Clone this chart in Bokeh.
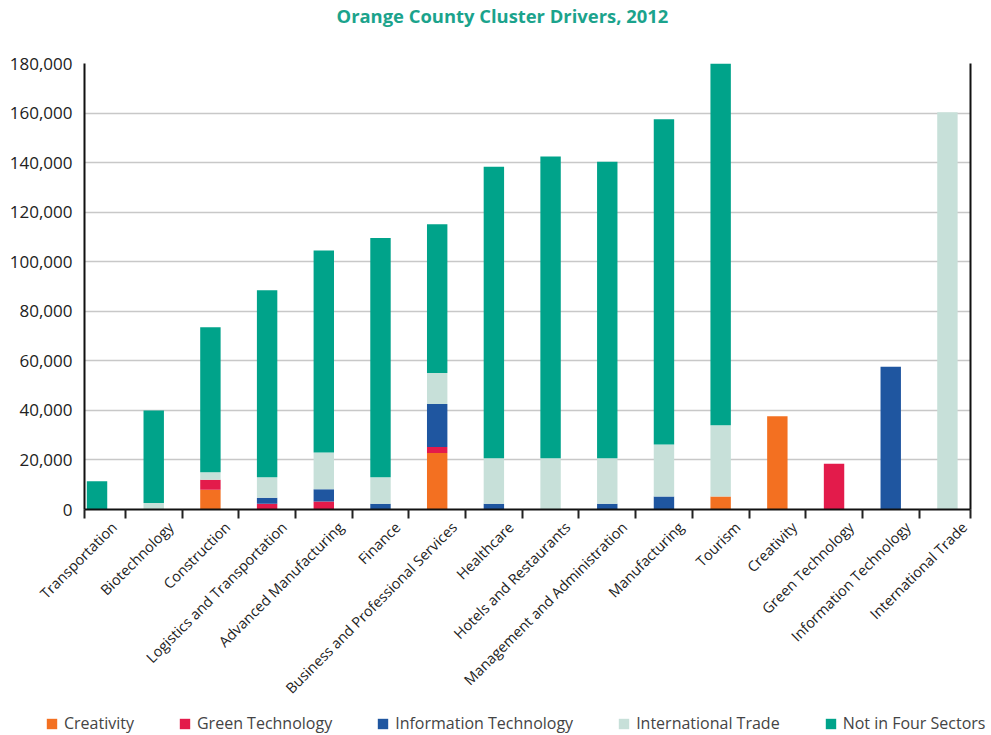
import math
from bokeh.plotting import figure
from bokeh.layouts import column
from bokeh.models import (ColumnDataSource, Range1d, FixedTicker, NumeralTickFormatter,
                          Legend, LegendItem, LinearAxis, Title)
from bokeh.embed import file_html
from bokeh.resources import INLINE

categories = ["Transportation", "Biotechnology", "Construction", "Logistics and Transportation",
              "Advanced Manufacturing", "Finance", "Business and Professional Services", "Healthcare",
              "Hotels and Restaurants", "Management and Administration", "Manufacturing", "Tourism",
              "Creativity", "Green Technology", "Information Technology", "International Trade"]

creativity   = [0, 0, 8000, 0, 0, 0, 22800, 0, 0, 0, 0, 5200, 37600, 0, 0, 0]
green_tech   = [0, 0, 4000, 2300, 3200, 0, 2400, 0, 0, 0, 0, 0, 0, 18500, 0, 0]
info_tech    = [0, 0, 0, 2400, 5000, 2300, 17400, 2300, 0, 2300, 5200, 0, 0, 0, 57600, 0]
intl_trade   = [0, 2600, 3000, 8300, 14800, 10700, 12500, 18400, 20700, 18400, 21000, 28800, 0, 0, 0, 160300]
not_in_four  = [11400, 37400, 58600, 75500, 81500, 96600, 60000, 117600, 121800, 119600, 131300, 146000, 0, 0, 0, 0]

series = ["Creativity", "Green Technology", "Information Technology", "International Trade", "Not in Four Sectors"]
keys = ["creativity", "green_tech", "info_tech", "intl_trade", "not_in_four"]
colors = ["#F37021", "#E31B4B", "#1F56A0", "#C7E0D9", "#00A38A"]
y_ticks = list(range(0, 180001, 20000))

xs = list(range(len(categories)))
source = ColumnDataSource(dict(x=xs, creativity=creativity, green_tech=green_tech, info_tech=info_tech,
                               intl_trade=intl_trade, not_in_four=not_in_four))

x_start, x_end = -0.221, 15.407
label_shift = 0.30
label_pos = [i + label_shift for i in xs]

p = figure(width=990, height=710, output_backend="svg", toolbar_location=None, title=None,
           x_range=Range1d(x_start, x_end), y_range=Range1d(0, 180000),
           min_border_left=84, min_border_right=20, min_border_top=63, min_border_bottom=201)

# spacer (nearest to the frame), then the visible title above it
p.add_layout(Title(text=" ", text_font_size="10px", standoff=23), "above")
p.add_layout(Title(text="Orange County Cluster Drivers, 2012", align="left", offset=252, standoff=0,
                   text_color="#1BA38C", text_font="Open Sans", text_font_style="bold",
                   text_font_size="18.4px"), "above")

p.vbar_stack(keys, x="x", width=0.36, source=source, color=colors, line_width=0)

# x axis
xa = p.xaxis[0]
xa.ticker = FixedTicker(ticks=label_pos, minor_ticks=[x_start] + [i + 0.5 for i in range(15)] + [x_end])
xa.major_label_overrides = {lp: c for lp, c in zip(label_pos, categories)}
xa.major_label_orientation = math.pi / 4
xa.major_tick_line_color = None
xa.minor_tick_in = 0
xa.minor_tick_out = 9
xa.minor_tick_line_color = "#222222"
xa.minor_tick_line_width = 2
xa.axis_line_color = "#111111"
xa.axis_line_width = 2
xa.major_label_text_font = "Open Sans"
xa.major_label_text_font_size = "14.5px"
xa.major_label_text_color = "#222222"
xa.major_label_standoff = 6

# y axis
ya = p.yaxis[0]
ya.ticker = FixedTicker(ticks=y_ticks)
ya.formatter = NumeralTickFormatter(format="0,0")
ya.major_tick_line_color = None
ya.minor_tick_line_color = None
ya.axis_line_color = "#111111"
ya.axis_line_width = 2
ya.major_label_text_font = "Open Sans"
ya.major_label_text_font_size = "17px"
ya.major_label_text_color = "#222222"
ya.major_label_standoff = 6

# right border
ra = LinearAxis(ticker=FixedTicker(ticks=[]), axis_line_color="#111111", axis_line_width=2,
                major_label_text_font_size="0px", major_tick_line_color=None, minor_tick_line_color=None)
p.add_layout(ra, "right")

p.xgrid.grid_line_color = None
p.ygrid.ticker = FixedTicker(ticks=y_ticks)
p.ygrid.grid_line_color = "#C8C8C8"
p.ygrid.grid_line_width = 1.5
p.outline_line_color = None

# legend strip (separate small figure under the chart)
lg = figure(width=990, height=25, output_backend="svg", toolbar_location=None, title=None,
            x_axis_type=None, y_axis_type=None, x_range=Range1d(0, 1), y_range=Range1d(0, 1),
            min_border_left=0, min_border_right=0, min_border_top=0, min_border_bottom=0)
lg.outline_line_color = None
lg.grid.grid_line_color = None
dummy = ColumnDataSource(dict(x=[5], top=[1]))
swatches = [lg.vbar(x="x", top="top", width=0.1, source=dummy, color=c, line_width=0) for c in colors]

legend_loc, legend_spacing = (45, 1), 44
try:
    lg.frame_align = False
    p.frame_align = False
except AttributeError:
    legend_loc, legend_spacing = (0, 1), 23

legend = Legend(items=[LegendItem(label=s, renderers=[r]) for s, r in zip(series, swatches)],
                orientation="horizontal", location=legend_loc, glyph_width=13, glyph_height=13,
                label_text_font="Open Sans", label_text_font_size="16px", label_standoff=6,
                spacing=legend_spacing, padding=0, margin=0, border_line_color=None,
                background_fill_alpha=0)
lg.add_layout(legend, "center")

layout = column(p, lg, spacing=0)
open("out.html", "w").write(file_html(layout, INLINE))
